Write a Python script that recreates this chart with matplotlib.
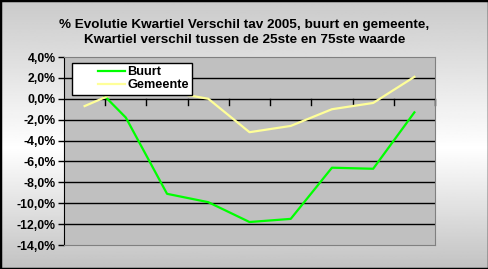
import numpy as np
import matplotlib.pyplot as plt
from matplotlib.ticker import FuncFormatter
from matplotlib.legend_handler import HandlerLine2D
from matplotlib.lines import Line2D

plt.rcParams['font.family'] = ['Liberation Sans', 'DejaVu Sans']

categories = ['1', '2', '3', '4', '5', '6', '7', '8', '9']
buurt = [2.2, -1.8, -9.1, -9.9, -11.8, -11.5, -6.6, -6.7, -1.3]
gemeente = [-0.7, 1.0, 0.7, 0.0, -3.2, -2.6, -1.0, -0.4, 2.1]
yticks = [4, 2, 0, -2, -4, -6, -8, -10, -12, -14]


class RightLine(HandlerLine2D):
    # draw the legend line only in the right part of the handle box
    def create_artists(self, legend, orig_handle, xdescent, ydescent,
                       width, height, fontsize, trans):
        y = height / 2.0 - ydescent
        ln = Line2D([-xdescent + width * 0.45, -xdescent + width], [y, y],
                    color=orig_handle.get_color(), lw=orig_handle.get_linewidth())
        ln.set_transform(trans)
        return [ln]


fig = plt.figure(figsize=(4.89, 2.69), dpi=100)

# background gradient: gray at top and bottom, white band in the middle
bg = fig.add_axes([0, 0, 1, 1], zorder=-10)
h = np.linspace(0, 1, 200)
shade = np.interp(h, [0, 0.45, 1], [0.76, 1.0, 0.79])
bg.imshow(shade[:, None], aspect='auto', cmap='gray', vmin=0, vmax=1,
          extent=[0, 1, 0, 1], origin='lower')
bg.set_xlim(0, 1)
bg.set_ylim(0, 1)
bg.axis('off')
bg.add_patch(plt.Rectangle((0, 0), 1, 1, fill=False, ec='black', lw=2.5,
                           transform=bg.transAxes))

ax = fig.add_axes([64 / 489, 1 - 245 / 269, (435 - 64) / 489, (245 - 57) / 269])
ax.set_facecolor('#c0c0c0')
x = np.arange(len(categories))
l1, = ax.plot(x, buurt, color='#00ff00', lw=1.6, label='Buurt', zorder=3)
l2, = ax.plot(x, gemeente, color='#ffff99', lw=1.6, label='Gemeente', zorder=3)

ax.set_xlim(-0.5, len(categories) - 0.5)
ax.set_ylim(-14, 4)
ax.set_yticks(yticks)
ax.yaxis.set_major_formatter(FuncFormatter(lambda v, p: ('%.1f%%' % v).replace('.', ',')))
for v in yticks[1:-1]:
    ax.axhline(v, color='black', lw=1, zorder=1)

ax.spines['top'].set_color('#808080')
ax.spines['right'].set_color('#808080')
ax.spines['bottom'].set_color('#808080')
ax.spines['left'].set_color('black')
ax.tick_params(axis='y', direction='out', length=4, width=1, labelsize=8.8, pad=2)
for t in ax.get_yticklabels():
    t.set_fontweight('bold')
ax.set_xticks([])
# category tick marks on the 0% axis
for xt in np.arange(-0.5, len(categories) + 0.5, 1.0)[1:]:
    ax.plot([xt, xt], [0, -0.55], color='black', lw=1, zorder=2, clip_on=False)

leg = ax.legend(loc='upper left', bbox_to_anchor=(0.022, 0.968), frameon=True,
                fancybox=False, framealpha=1, edgecolor='black', fontsize=9.2,
                handlelength=3.9, borderpad=0.25, labelspacing=0.1,
                handletextpad=0.15, borderaxespad=0,
                handler_map={Line2D: RightLine()})
leg.get_frame().set_linewidth(1)
leg.set_zorder(5)
for t in leg.get_texts():
    t.set_fontweight('bold')

fig.text(0.5, 0.88, '% Evolutie Kwartiel Verschil tav 2005, buurt en gemeente,\n'
         'Kwartiel verschil tussen de 25ste en 75ste waarde',
         ha='center', va='center', fontsize=9.7, fontweight='bold', linespacing=1.35)

fig.savefig('out.png', dpi=100)
